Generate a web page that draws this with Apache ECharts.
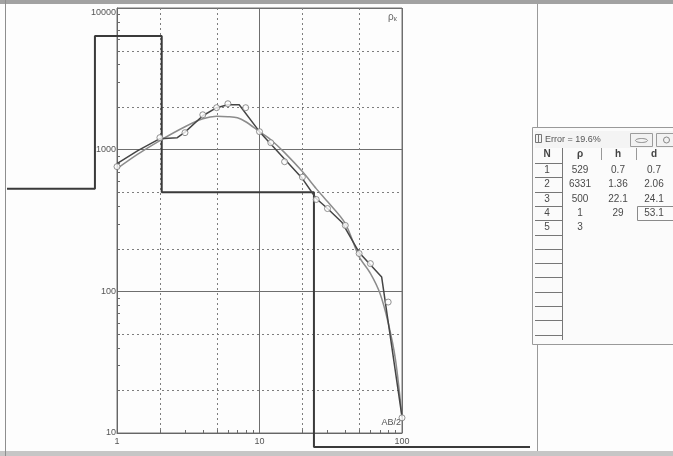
<!DOCTYPE html>
<html>
<head>
<meta charset="utf-8">
<script src="https://cdn.jsdelivr.net/npm/echarts@6.0.0/dist/echarts.min.js"></script>
<style>
  html, body { margin: 0; padding: 0; background: #fdfdfd; }
  #chart { width: 673px; height: 456px; }
</style>
</head>
<body>
<div id="chart"></div>
<script>
// Vertical electrical sounding: apparent resistivity vs AB/2, log-log.

// Field curve (polyline)
const fieldAB  = [1, 1.4, 2, 2.65, 3, 4, 5, 6, 7.2, 10, 20, 25, 30, 38, 50, 72, 100];
const fieldRho = [796, 984, 1195, 1215, 1330, 1735, 1978, 2075, 2075, 1340, 625, 452, 384, 306, 188, 126, 13];

// Measured points (circles)
const pointAB  = [1, 2, 3, 4, 5, 6, 8, 10, 12, 15, 20, 25, 30, 40, 50, 60, 80, 100];
const pointRho = [759, 1216, 1318, 1763, 1978, 2110, 1978, 1340, 1120, 822, 640, 445, 384, 292, 185, 157, 84, 12.8];

// Computed (model response) curve
const calcAB  = [1, 1.4, 2, 3, 4, 5, 6, 7, 8, 10, 12, 15, 20, 25, 30, 40, 50, 60, 70, 80, 90, 100];
const calcRho = [735, 930, 1160, 1452, 1652, 1722, 1710, 1680, 1574, 1340, 1175, 953, 700, 531, 430, 301, 176, 134, 97, 60, 33, 13];

// Layered model (table + step curve)
const layerN   = [1, 2, 3, 4, 5];
const layerRho = [529, 6331, 500, 1, 3];
const layerH   = [0.7, 1.36, 22.1, 29];
const layerD   = [0.7, 2.06, 24.1, 53.1];
const errorPct = 19.6;

// Axis ticks
const xDecades = [1, 10, 100];
const yDecades = [10, 100, 1000, 10000];
const xDotted  = [2, 5, 20, 50];
const yDotted  = [20, 50, 200, 500, 2000, 5000];

// ---- layout of the plotting frame ----
const PLOT = { left: 117, top: 8, width: 285, height: 425 };
const X_MIN = 1, X_MAX = 100, Y_MIN = 10, Y_MAX = 10000;
const pxDecX = PLOT.width / Math.log10(X_MAX / X_MIN);
const pxDecY = PLOT.height / Math.log10(Y_MAX / Y_MIN);

// Model window: same scale, larger visible area
const WIN = { left: 7, top: 5, right: 530, bottom: 447 };
const X1_MIN = Math.pow(10, Math.log10(X_MIN) + (WIN.left - PLOT.left) / pxDecX);
const X1_MAX = Math.pow(10, Math.log10(X_MIN) + (WIN.right - PLOT.left) / pxDecX);
const Y1_MAX = Math.pow(10, Math.log10(Y_MAX) + (PLOT.top - WIN.top) / pxDecY);
const Y1_MIN = Math.pow(10, Math.log10(Y_MIN) - (WIN.bottom - (PLOT.top + PLOT.height)) / pxDecY);

// Step curve of the model; resistivities below the window are held at its lower edge
function modelSteps() {
  const clampR = r => Math.max(r, Y1_MIN * 1.0001);
  const pts = [[X1_MIN * 1.0001, clampR(layerRho[0])]];
  for (let i = 0; i < layerD.length; i++) {
    pts.push([layerD[i], clampR(layerRho[i])]);
    pts.push([layerD[i], clampR(layerRho[i + 1])]);
  }
  pts.push([X1_MAX * 0.9999, clampR(layerRho[layerRho.length - 1])]);
  return pts;
}

const zip = (a, b) => a.map((v, i) => [v, b[i]]);

// Guide items: [x, y, kind]  kind 0 = dotted vertical, 1 = dotted horizontal,
// 2 = x minor tick, 3 = y minor tick
const guideData = [];
xDotted.forEach(v => guideData.push([v, Y_MIN, 0]));
yDotted.forEach(v => guideData.push([X_MIN, v, 1]));
for (let d = 1; d < X_MAX; d *= 10) for (let k = 2; k <= 9; k++) guideData.push([k * d, Y_MIN, 2]);
for (let d = 10; d < Y_MAX; d *= 10) for (let k = 2; k <= 9; k++) guideData.push([X_MIN, k * d, 3]);

function renderGuide(params, api) {
  const cs = params.coordSys;
  const kind = api.value(2);
  const p = api.coord([api.value(0), api.value(1)]);
  const px = Math.round(p[0]) + 0.5, py = Math.round(p[1]) + 0.5;
  const bottom = cs.y + cs.height, left = cs.x;
  let shape;
  if (kind === 0) shape = { x1: px, y1: cs.y, x2: px, y2: bottom };
  else if (kind === 1) shape = { x1: left, y1: py, x2: left + cs.width, y2: py };
  else if (kind === 2) shape = { x1: px, y1: bottom, x2: px, y2: bottom - 3 };
  else shape = { x1: left, y1: py, x2: left + 3, y2: py };
  const dotted = kind < 2;
  return {
    type: 'line',
    shape: shape,
    style: { stroke: dotted ? '#7d7d7d' : '#6a6a6a', lineWidth: 1, lineDash: dotted ? [2, 3] : null }
  };
}

const FONT = 'Liberation Sans, Arial, sans-serif';

// ---- layer table window ----
function tableGraphics() {
  const g = [];
  const x0 = 532, y0 = 127, w = 145, h = 217;
  g.push({ type: 'rect', shape: { x: x0 + 0.5, y: y0 + 0.5, width: w, height: h },
           style: { fill: '#fbfbfb', stroke: '#9a9a9a', lineWidth: 1 }, z: 10 });
  // title bar
  g.push({ type: 'rect', shape: { x: x0 + 3, y: y0 + 4, width: w - 6, height: 17 },
           style: { fill: '#f4f4f4' }, z: 10 });
  g.push({ type: 'rect', shape: { x: 535.5, y: 134.5, width: 6, height: 8 },
           style: { fill: 'none', stroke: '#777', lineWidth: 1 }, z: 11 });
  g.push({ type: 'line', shape: { x1: 538.5, y1: 134, x2: 538.5, y2: 143 },
           style: { stroke: '#777', lineWidth: 1 }, z: 11 });
  g.push({ type: 'text', x: 545, y: 140, z: 11,
           style: { text: 'Error = ' + errorPct + '%', font: '9px ' + FONT, fill: '#555', verticalAlign: 'middle' } });
  g.push({ type: 'rect', shape: { x: 630.5, y: 133.5, width: 22, height: 13 },
           style: { fill: '#f2f2f2', stroke: '#9c9c9c', lineWidth: 1 }, z: 11 });
  g.push({ type: 'ellipse', shape: { cx: 641.5, cy: 140.5, rx: 6, ry: 2 },
           style: { fill: 'none', stroke: '#888', lineWidth: 1 }, z: 11 });
  g.push({ type: 'rect', shape: { x: 656.5, y: 133.5, width: 20, height: 13 },
           style: { fill: '#f2f2f2', stroke: '#9c9c9c', lineWidth: 1 }, z: 11 });
  g.push({ type: 'circle', shape: { cx: 666.5, cy: 140, r: 3 },
           style: { fill: 'none', stroke: '#888', lineWidth: 1 }, z: 11 });

  const colX = { N: 547, rho: 580, h: 618, d: 654 };
  const headY = 154;
  const hdr = [['N', colX.N], ['ρ', colX.rho], ['h', colX.h], ['d', colX.d]];
  hdr.forEach(([t, x]) => g.push({ type: 'text', x: x, y: headY, z: 11,
    style: { text: t, font: 'bold 10px ' + FONT, fill: '#444', align: 'center', verticalAlign: 'middle' } }));
  // column separators
  g.push({ type: 'line', shape: { x1: 562.5, y1: 148, x2: 562.5, y2: 340 }, style: { stroke: '#777', lineWidth: 1 }, z: 11 });
  [601.5, 636.5].forEach(x => g.push({ type: 'line', shape: { x1: x, y1: 148, x2: x, y2: 160 },
    style: { stroke: '#999', lineWidth: 1 }, z: 11 }));
  // row lines in the N column
  const rowH = 14.3, firstLine = 163;
  for (let i = 0; i < 13; i++) {
    const y = Math.round(firstLine + i * rowH) + 0.5;
    g.push({ type: 'line', shape: { x1: 535, y1: y, x2: 562, y2: y }, style: { stroke: '#777', lineWidth: 1 }, z: 11 });
  }
  // values
  layerN.forEach((n, i) => {
    const y = firstLine + i * rowH + rowH / 2;
    const cells = [[String(n), colX.N], [String(layerRho[i]), colX.rho]];
    if (i < layerH.length) { cells.push([String(layerH[i]), colX.h]); cells.push([String(layerD[i]), colX.d]); }
    cells.forEach(([t, x]) => g.push({ type: 'text', x: x, y: y, z: 11,
      style: { text: t, font: '10px ' + FONT, fill: '#4a4a4a', align: 'center', verticalAlign: 'middle' } }));
  });
  // selected cell
  g.push({ type: 'rect', shape: { x: 637.5, y: Math.round(firstLine + 3 * rowH) + 0.5, width: 40, height: 14 },
           style: { fill: 'none', stroke: '#8a8a8a', lineWidth: 1 }, z: 11 });
  return g;
}

const chart = echarts.init(document.getElementById('chart'), null, { renderer: 'canvas' });

const option = {
  animation: false,
  backgroundColor: '#fdfdfd',
  grid: [
    { left: PLOT.left, top: PLOT.top, width: PLOT.width, height: PLOT.height,
      show: true, borderColor: '#777', borderWidth: 1, backgroundColor: 'transparent', containLabel: false },
    { left: WIN.left, top: WIN.top, width: WIN.right - WIN.left, height: WIN.bottom - WIN.top,
      show: false, containLabel: false }
  ],
  xAxis: [
    { type: 'log', gridIndex: 0, min: X_MIN, max: X_MAX, logBase: 10,
      axisLine: { show: true, lineStyle: { color: '#666', width: 1 } },
      axisTick: { show: false },
      splitLine: { show: true, lineStyle: { color: '#6e6e6e', width: 1 } },
      axisLabel: { color: '#555', fontSize: 9, fontFamily: FONT, margin: 4 } },
    { type: 'log', gridIndex: 1, min: X1_MIN, max: X1_MAX, show: false }
  ],
  yAxis: [
    { type: 'log', gridIndex: 0, min: Y_MIN, max: Y_MAX, logBase: 10,
      axisLine: { show: true, lineStyle: { color: '#666', width: 1 } },
      axisTick: { show: false },
      splitLine: { show: true, lineStyle: { color: '#6e6e6e', width: 1 } },
      axisLabel: { color: '#555', fontSize: 9, fontFamily: FONT, margin: 1,
        formatter: v => Math.round(v) === Y_MAX ? '{top|' + Math.round(v) + '}' : String(Math.round(v)),
        rich: { top: { fontSize: 9, fontFamily: FONT, color: '#555', padding: [10, 0, 0, 0] } } } },
    { type: 'log', gridIndex: 1, min: Y1_MIN, max: Y1_MAX, show: false }
  ],
  series: [
    { type: 'custom', name: 'guides', xAxisIndex: 0, yAxisIndex: 0, silent: true, z: 1,
      encode: { x: 0, y: 1 }, data: guideData, renderItem: renderGuide, clip: false },
    { type: 'line', name: 'model', xAxisIndex: 1, yAxisIndex: 1, data: modelSteps(),
      symbol: 'none', clip: true, z: 3,
      lineStyle: { color: '#3a3a3a', width: 2 } },
    { type: 'line', name: 'calculated', xAxisIndex: 0, yAxisIndex: 0, data: zip(calcAB, calcRho),
      symbol: 'none', smooth: 0.3, z: 4,
      lineStyle: { color: '#8c8c8c', width: 1.5 } },
    { type: 'line', name: 'field', xAxisIndex: 0, yAxisIndex: 0, data: zip(fieldAB, fieldRho),
      symbol: 'none', z: 5,
      lineStyle: { color: '#454545', width: 1.5 } },
    { type: 'scatter', name: 'measured', xAxisIndex: 0, yAxisIndex: 0, data: zip(pointAB, pointRho),
      symbol: 'circle', symbolSize: 6, z: 6,
      itemStyle: { color: '#fdfdfd', borderColor: '#777', borderWidth: 1 } }
  ],
  graphic: [
    // window chrome
    { type: 'rect', shape: { x: 0, y: 0, width: 673, height: 4 }, style: { fill: '#a2a2a2' }, z: 0 },
    { type: 'rect', shape: { x: 0, y: 451, width: 673, height: 5 }, style: { fill: '#c6c6c6' }, z: 0 },
    { type: 'line', shape: { x1: 5.5, y1: 0, x2: 5.5, y2: 456 }, style: { stroke: '#8e8e8e', lineWidth: 1 }, z: 0 },
    { type: 'line', shape: { x1: 537.5, y1: 4, x2: 537.5, y2: 451 }, style: { stroke: '#9a9a9a', lineWidth: 1 }, z: 0 },
    // axis captions
    { type: 'text', x: 388, y: 17, z: 5,
      style: { text: '{r|ρ}{s|к}', verticalAlign: 'middle',
        rich: { r: { font: '10px ' + FONT, fill: '#666' }, s: { font: '7px ' + FONT, fill: '#666', padding: [5, 0, 0, 0] } } } },
    { type: 'text', x: 401, y: 423, z: 5,
      style: { text: 'AB/2', font: '9px ' + FONT, fill: '#555', align: 'right', verticalAlign: 'middle' } }
  ].concat(tableGraphics())
};

chart.setOption(option);
</script>
</body>
</html>
